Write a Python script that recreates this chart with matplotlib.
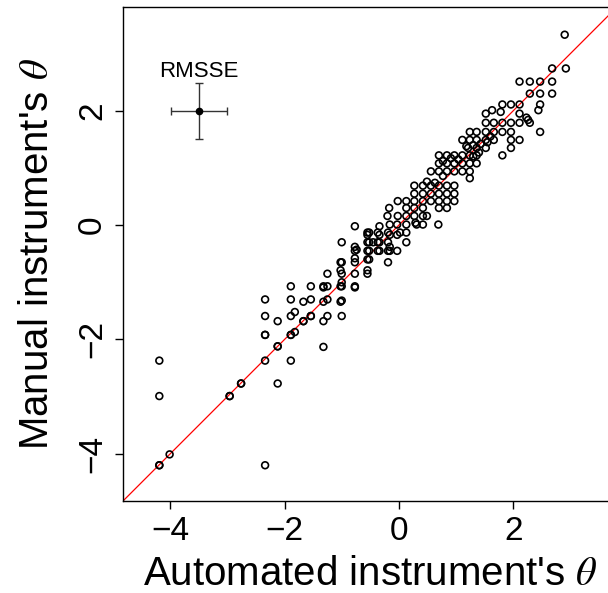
import matplotlib
matplotlib.use("Agg")
import matplotlib.pyplot as plt

plt.rcParams["font.family"] = ["Liberation Sans", "DejaVu Sans"]
plt.rcParams["mathtext.fontset"] = "stix"

# theta estimates (automated, manual)
auto_theta = [
    # far low end
    -4.19, -4.19, -4.01, -4.19, -4.19, -2.96, -2.96, -2.76, -2.76, -2.12, -2.34, -1.32,
    # -2.3 .. -1.25
    -2.34, -2.34, -2.34, -2.34, -2.34,
    -2.12, -2.12, -2.12,
    -1.89, -1.89, -1.89, -1.89, -1.89, -1.89,
    -1.82, -1.82,
    -1.67, -1.67, -1.67,
    -1.54, -1.54, -1.54, -1.54,
    -1.32, -1.32, -1.32, -1.32,
    -1.25, -1.25, -1.25, -1.25,
    # -1.0
    -1.00, -1.00, -1.02, -1.02, -1.00, -1.00, -1.00, -1.02, -1.00, -1.02, -1.00,
    # -0.77
    -0.77, -0.77, -0.74, -0.77, -0.77, -0.77, -0.77, -0.77, -0.77,
    # -0.55
    -0.55, -0.52, -0.55, -0.55, -0.52, -0.55, -0.52, -0.55, -0.52, -0.55, -0.55, -0.45,
    # -0.34
    -0.34, -0.37, -0.34, -0.37, -0.34, -0.37, -0.34,
    # -0.19
    -0.16, -0.19, -0.16, -0.19, -0.16, -0.19, -0.16, -0.19, -0.03,
    # around zero, below 0.1
    -0.03, -0.03, 0.02, 0.13, 0.13, 0.13, 0.29, 0.31, 0.42, 0.69,
    # rows above 0.1
    -0.20, -0.02, 0.13, 0.27, 0.42, 0.49,
    -0.17, 0.13, 0.27, 0.42, 0.70, 0.84,
    -0.02, 0.13, 0.27, 0.42, 0.56, 0.70, 0.84, 0.97,
    0.27, 0.42, 0.56, 0.70, 0.84, 0.97,
    0.27, 0.42, 0.56, 0.70, 0.84, 0.97,
    0.49, 0.63, 0.77, 1.24,
    0.56, 0.70, 0.84, 0.97, 1.11, 1.24,
    0.70, 0.84, 0.97, 1.11, 1.24, 1.36, 0.77, 0.91, 1.04,
    0.70, 0.84, 0.97, 1.11, 1.24, 1.36, 1.81, 1.30,
    1.21, 1.36, 1.52, 1.96, 1.18, 1.30, 1.43, 1.40,
    1.11, 1.24, 1.36, 1.52, 1.66, 1.96, 2.11, 1.55, 1.60,
    1.24, 1.36, 1.52, 1.66, 1.81, 1.96, 2.47,
    1.52, 1.66, 1.81, 1.96, 2.11, 2.29,
    2.23, 2.26, 1.52, 2.11, 1.78, 1.63, 2.44,
    1.81, 1.96, 2.11, 2.47,
    2.29, 2.47, 2.68,
    2.11, 2.29, 2.47, 2.68,
    2.68, 2.92,
    2.90,
]

manual_theta = [
    -4.20, -4.20, -4.01, -2.99, -2.37, -2.99, -2.99, -2.77, -2.77, -2.77, -4.20, -2.13,
    -1.30, -1.59, -1.92, -1.92, -2.37,
    -1.68, -2.12, -2.12,
    -1.07, -1.30, -1.59, -1.92, -1.92, -2.37,
    -1.52, -1.87,
    -1.34, -1.68, -1.68,
    -1.07, -1.30, -1.59, -1.59,
    -1.07, -1.09, -1.34, -1.68,
    -0.85, -1.07, -1.30, -1.59,
    -0.30, -0.65, -0.65, -0.79, -0.85, -1.00, -1.07, -1.07, -1.32, -1.34, -1.59,
    -0.02, -0.38, -0.43, -0.45, -0.58, -0.65, -0.85, -1.07, -1.09,
    -0.13, -0.13, -0.17, -0.30, -0.30, -0.45, -0.45, -0.60, -0.60, -0.79, -0.85, -0.30,
    -0.02, -0.13, -0.17, -0.30, -0.30, -0.45, -0.45,
    0.01, -0.13, -0.17, -0.30, -0.38, -0.45, -0.45, -0.65, -0.45,
    0.01, -0.17, -0.13, 0.01, -0.13, -0.30, 0.04, 0.01, 0.01, 0.01,
    0.16, 0.16, 0.16, 0.16, 0.16, 0.16,
    0.30, 0.30, 0.30, 0.30, 0.30, 0.30,
    0.42, 0.42, 0.42, 0.42, 0.42, 0.42, 0.42, 0.42,
    0.55, 0.55, 0.55, 0.55, 0.55, 0.55,
    0.69, 0.69, 0.69, 0.69, 0.69, 0.69,
    0.76, 0.74, 0.86, 0.82,
    0.94, 0.94, 0.94, 0.94, 0.94, 0.94,
    1.08, 1.08, 1.08, 1.08, 1.08, 1.08, 1.12, 1.17, 1.15,
    1.22, 1.22, 1.22, 1.22, 1.22, 1.22, 1.22, 1.20,
    1.35, 1.35, 1.35, 1.35, 1.38, 1.40, 1.42, 1.27,
    1.49, 1.49, 1.49, 1.49, 1.49, 1.49, 1.49, 1.45, 1.55,
    1.63, 1.63, 1.63, 1.63, 1.63, 1.63, 1.63,
    1.79, 1.79, 1.79, 1.79, 1.79, 1.79,
    1.88, 1.84, 1.95, 1.95, 1.98, 2.01, 2.01,
    2.11, 2.11, 2.11, 2.11,
    2.30, 2.30, 2.30,
    2.51, 2.51, 2.51, 2.51,
    2.74, 2.74,
    3.33,
]

rmsse_x, rmsse_y = -3.5, 2.0
rmsse_err_x, rmsse_err_y = 0.49, 0.49

fig = plt.figure(figsize=(6.08, 5.93), dpi=100)
ax = fig.add_axes([123.3 / 608, 92.3 / 593, 494 / 608, 494 / 593])

ax.scatter(auto_theta, manual_theta, s=24, facecolors="none", edgecolors="black",
           linewidths=1.2, zorder=3)
ax.axline((0, 0), slope=1, color="red", lw=0.9, zorder=2)

ax.errorbar(rmsse_x, rmsse_y, xerr=rmsse_err_x, yerr=rmsse_err_y, fmt="o", ms=4.5,
            color="black", ecolor="#333333", elinewidth=1.0, capsize=3, capthick=1.0)
ax.text(rmsse_x, rmsse_y + 0.69, "RMSSE", ha="center", va="center", fontsize=16)

ax.set_xlim(-4.82, 3.82)
ax.set_ylim(-4.82, 3.82)
ax.set_xticks([-4, -2, 0, 2])
ax.set_yticks([-4, -2, 0, 2])
ax.tick_params(direction="out", length=6, width=1, labelsize=24, pad=5)
plt.setp(ax.get_yticklabels(), rotation=90, va="center")
for s in ax.spines.values():
    s.set_linewidth(1.0)

ax.set_xlabel("Automated instrument's $\\theta$", fontsize=29, labelpad=6)
ax.set_ylabel("Manual instrument's $\\theta$", fontsize=29, labelpad=15)

fig.savefig("out.png", dpi=100)
